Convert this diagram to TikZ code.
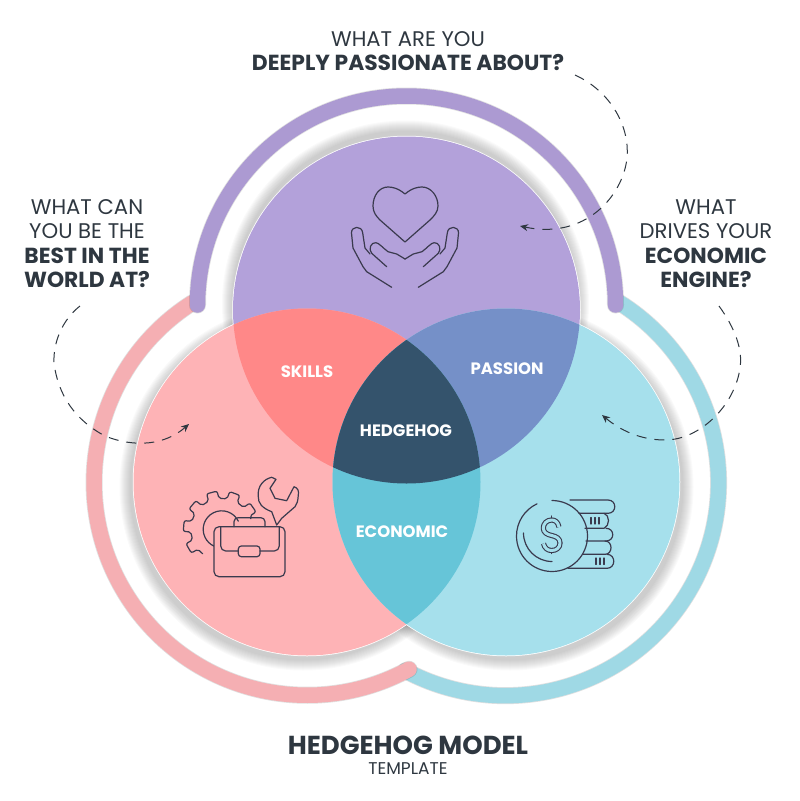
\documentclass[tikz,border=0pt]{standalone}
\usepackage{fontspec}
\setmainfont{Poppins}
\usetikzlibrary{arrows.meta}

\definecolor{passionfill}{HTML}{B3A1DA}
\definecolor{skillsfill}{HTML}{FEB3B6}
\definecolor{econfill}{HTML}{A6E0EC}
\definecolor{skillspassion}{HTML}{FF8888}
\definecolor{passionecon}{HTML}{7590C8}
\definecolor{skillsecon}{HTML}{66C5D8}
\definecolor{hedgefill}{HTML}{34536C}
\definecolor{passionring}{HTML}{AC9AD2}
\definecolor{skillsring}{HTML}{F5AFB3}
\definecolor{econring}{HTML}{9FD9E5}
\definecolor{inkdark}{HTML}{2E3740}
\definecolor{iconline}{HTML}{3A3A4E}

\newcommand{\boldline}[1]{{\fontsize{21.8}{24.5}\selectfont\bfseries #1}}

\tikzstyle{asktext}=[align=center, text=inkdark, font=\fontsize{21.2}{24.5}\selectfont]
\tikzstyle{lens}=[text=white, font=\fontsize{16.5}{18}\selectfont\bfseries]
\tikzstyle{ring}=[line width=15.5pt, line cap=round]
\tikzstyle{ringedge}=[line width=17pt, line cap=round, black, opacity=0.12]
\tikzstyle{dashpath}=[inkdark, line width=1pt, dash pattern=on 10pt off 8pt, -{Stealth[length=8pt,width=7pt]}]
\tikzstyle{icon}=[iconline, line width=1.2pt, line join=round, line cap=round]

\begin{document}
\begin{tikzpicture}[x=1pt,y=-1pt]
\useasboundingbox (0,0) rectangle (800,801);

\coordinate (cpassion) at (406.5,310);
\coordinate (cskills) at (307,482);
\coordinate (cecon) at (506,482);

% shadows
\foreach \r in {0,1,...,10} {
  \fill[black,opacity=0.018] ([shift={(-1,-6)}]cpassion) circle [radius=173.5+\r];
  \fill[black,opacity=0.018] ([shift={(-4,5)}]cskills) circle [radius=173.5+\r];
  \fill[black,opacity=0.018] ([shift={(4,5)}]cecon) circle [radius=173.5+\r];
}

% outer rings
\draw[ringedge] (620,303) arc (-57.5:118:213);
\draw[ring,econring] (620,303) arc (-57.5:118:213);
\draw[ringedge] (192,303) arc (237.3:61.4:213);
\draw[ring,skillsring] (192,303) arc (237.3:61.4:213);
\draw[ringedge] (197.5,305) arc (180:360:209);
\draw[ring,passionring] (197.5,305) arc (180:360:209);

% circles
\draw[white,line width=1.5pt] (cpassion) circle [radius=173.5];
\draw[white,line width=1.5pt] (cskills) circle [radius=173.5];
\draw[white,line width=1.5pt] (cecon) circle [radius=173.5];
\fill[passionfill] (cpassion) circle [radius=173.5];
\fill[skillsfill] (cskills) circle [radius=173.5];
\fill[econfill] (cecon) circle [radius=173.5];
\begin{scope}
  \clip (cpassion) circle [radius=173.5];
  \fill[skillspassion] (cskills) circle [radius=173.5];
  \fill[passionecon] (cecon) circle [radius=173.5];
\end{scope}
\begin{scope}
  \clip (cskills) circle [radius=173.5];
  \fill[skillsecon] (cecon) circle [radius=173.5];
  \clip (cecon) circle [radius=173.5];
  \fill[hedgefill] (cpassion) circle [radius=173.5];
\end{scope}

% heart and hands
\draw[icon] (405,194) .. controls (398,188) and (392,187) .. (388,187) .. controls (379,187) and (373,196) .. (373,206) .. controls (373,212) and (376,216) .. (380,220) -- (405,242) -- (430,220) .. controls (434,216) and (438,212) .. (438,206) .. controls (438,196) and (431,187) .. (422,187) .. controls (418,187) and (412,188) .. (405,194) -- cycle;
\foreach \s in {1,-1} {
  \begin{scope}[shift={(405,0)},xscale=\s]
    \draw[icon] (-13.3,287.3) -- (-38.3,271.7) -- (-42,266.7) -- (-52,248) -- (-53.5,233) .. controls (-54,226) and (-43,225) .. (-42.3,233) -- (-40,248) -- (-35,254);
    \draw[icon] (-18.3,266.7) -- (-33.3,253.3) .. controls (-37,249) and (-34,242) .. (-29,242.7) .. controls (-26,243) and (-22,248) .. (-17,251.7) -- (-8.3,254) -- (0,259);
  \end{scope}
}

% gear, wrench and case
\begin{scope}[shift={(221.7,529.3)}]
  \draw[icon,rounded corners=2pt] (-20:31) \foreach \a in {-35,-70,...,-210} { -- (\a+10:31) -- (\a+8:38.5) -- (\a-8:38.5) -- (\a-10:31) } -- (-232:31);
  \draw[icon] (-26:18.5) arc (-26:-245:18.5);
\end{scope}
\draw[icon] (276.7,525) -- (271.7,511.7) .. controls (262,508) and (258,503) .. (258.3,496.7) .. controls (257,486) and (264,479) .. (271.7,477.3) -- (276,479.3) -- (270,488.3) -- (275,498.3) -- (286.7,500.7) -- (294,486.7) .. controls (298,488) and (299,491) .. (298.3,495) .. controls (298,501) and (297,504) .. (295,506.7) -- (281.7,518.3) -- cycle;
\fill[skillsfill] (214,526.7) rectangle (285,576.7);
\draw[icon,rounded corners=5pt] (214,526.7) rectangle (285,576.7);
\draw[icon,rounded corners=5pt] (220.7,527) -- (220.7,551) -- (238.3,551);
\draw[icon,rounded corners=5pt] (260,551) -- (279.3,551) -- (279.3,527);
\draw[icon,rounded corners=3pt] (238.3,546) rectangle (260,556.7);
\draw[icon,rounded corners=4pt] (234,526.7) -- (234,517.7) -- (265,517.7) -- (265,526.7);

% coin stack
\draw[icon] (570,500) -- (608,500) .. controls (617,500) and (617,513.3) .. (608,513.3) -- (579,513.3);
\draw[icon] (604,513.3) .. controls (610,515) and (610,526) .. (604,528.3) -- (585,528.3);
\draw[icon] (606,528.3) .. controls (615,528.3) and (615,541) .. (606,541) -- (586,541);
\draw[icon] (605,541) .. controls (613,541) and (613,554.3) .. (605,554.3) -- (583,554.3);
\draw[icon] (607,554.3) .. controls (616,554.3) and (616,568.3) .. (607,568.3) -- (568,568.3);
\foreach \x in {591,595,599} \draw[icon] (\x,517.5) -- (\x,524);
\foreach \x in {596,600,604} \draw[icon] (\x,558) -- (\x,564.5);
\draw[icon] (552,500.5) arc (-90:245:35.5);
\draw[icon] (523.5,533) arc (180:90:28.5);
\draw[icon,line width=1.1pt] (551.7,516) -- (551.7,553.5);
\draw[econfill,line width=2.4pt] (551.7,519) -- (551.7,551);
\draw[icon,line width=1.1pt,line cap=butt,double=econfill,double distance=3pt] (559,527) .. controls (558,522) and (555,520) .. (551.7,520) .. controls (547,520) and (543.3,523.5) .. (543.3,528) .. controls (543.3,532.5) and (547,534.5) .. (551.7,535.5) .. controls (556.5,536.5) and (560,538.5) .. (560,543) .. controls (560,547.5) and (556.5,550.5) .. (551.7,550.5) .. controls (547.5,550.5) and (544.5,548) .. (543.5,543.5);

% dashed arrows
\coordinate (topfrom) at (575,75);
\coordinate (topto) at (520,226);
\coordinate (rightfrom) at (719,306);
\coordinate (rightto) at (602,415);
\coordinate (leftfrom) at (80,306);
\coordinate (leftto) at (189,424);
\draw[dashpath] (topfrom) .. controls (612,92) and (630,128) .. (627,158) .. controls (623,196) and (585,240) .. (topto);
\draw[dashpath] (rightfrom) .. controls (735,328) and (743,350) .. (740,368) .. controls (735,405) and (700,440) .. (665,440) .. controls (640,440) and (620,430) .. (rightto);
\draw[dashpath] (leftfrom) .. controls (62,320) and (53,343) .. (54,363) .. controls (58,395) and (75,420) .. (105,436) .. controls (135,448) and (165,445) .. (leftto);

% texts
\node[asktext](asktop) at (408,51) {WHAT ARE YOU\\\boldline{DEEPLY PASSIONATE ABOUT?}};
\node[asktext](askleft) at (87,243.5) {WHAT CAN\\YOU BE THE\\\boldline{BEST IN THE}\\\boldline{WORLD AT?}};
\node[asktext](askright) at (706,243.5) {WHAT\\DRIVES YOUR\\\boldline{ECONOMIC}\\\boldline{ENGINE?}};

\node[lens](skills) at (307,372) {SKILLS};
\node[lens](passion) at (507,369) {PASSION};
\node[lens](hedgehog) at (406,431) {HEDGEHOG};
\node[lens](economic) at (402,532) {ECONOMIC};

\node[text=inkdark,font=\fontsize{26}{28}\selectfont\bfseries](title) at (408,745) {HEDGEHOG MODEL};
\node[text=inkdark,font=\fontsize{17}{19}\selectfont](subtitle) at (408,769) {TEMPLATE};
\end{tikzpicture}
\end{document}
